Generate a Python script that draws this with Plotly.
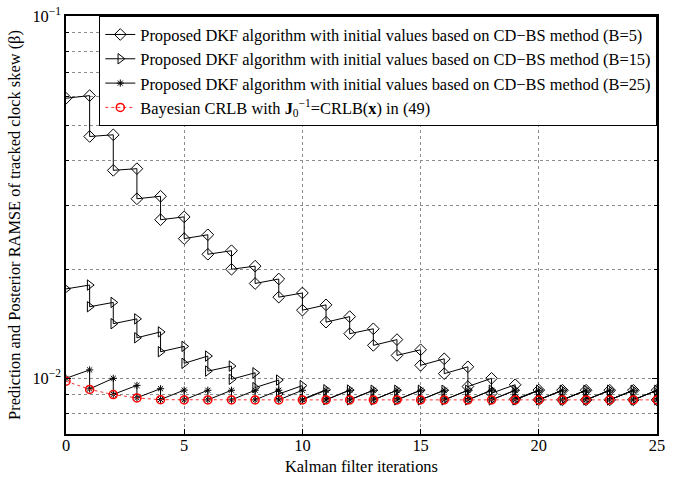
import numpy as np
import plotly.graph_objects as go

iters = list(range(0, 26))

# B=5: initial (k=0) and prediction/posterior for k=1..25
b5_init = 0.0593
b5_pred = [0.0603, 0.0470, 0.0379, 0.0318, 0.0279, 0.0249, 0.0225, 0.0204, 0.0188, 0.0172,
           0.01595, 0.0148, 0.0137, 0.01279, 0.01199, 0.01132, 0.01076, 0.0100, 0.00960, 0.00928,
           0.00927, 0.00927, 0.00927, 0.00927, 0.00927]
b5_post = [0.0465, 0.0375, 0.0313, 0.0274, 0.0243, 0.0220, 0.0200, 0.01827, 0.01675, 0.01542,
           0.01429, 0.01328, 0.01233, 0.01157, 0.01086, 0.01030, 0.00949, 0.0091, 0.00876, 0.00873,
           0.00872, 0.00872, 0.00872, 0.00872, 0.00872]

# B=15
b15_init = 0.01765
b15_pred = [0.01809, 0.01620, 0.01459, 0.01343, 0.01225, 0.01152, 0.01081, 0.01036, 0.00989, 0.00955,
            0.00930, 0.00928, 0.00927, 0.00927, 0.00927, 0.00927, 0.00927, 0.00927, 0.00927, 0.00927,
            0.00927, 0.00927, 0.00927, 0.00927, 0.00927]
b15_post = [0.01576, 0.01415, 0.01294, 0.01184, 0.01100, 0.01047, 0.00994, 0.00943, 0.00905, 0.00876,
            0.00873, 0.00872, 0.00872, 0.00872, 0.00872, 0.00872, 0.00872, 0.00872, 0.00872, 0.00872,
            0.00872, 0.00872, 0.00872, 0.00872, 0.00872]

# B=25
b25_init = 0.0100
b25_pred = [0.01055, 0.0100, 0.00956, 0.00936, 0.00928, 0.00927, 0.00927, 0.00927, 0.00927, 0.00927,
            0.00927, 0.00927, 0.00927, 0.00927, 0.00927, 0.00927, 0.00927, 0.00927, 0.00927, 0.00927,
            0.00927, 0.00927, 0.00927, 0.00927, 0.00927]
b25_post = [0.00935, 0.00903, 0.00884, 0.00874, 0.00872, 0.00872, 0.00872, 0.00872, 0.00872, 0.00872,
            0.00872, 0.00872, 0.00872, 0.00872, 0.00872, 0.00872, 0.00872, 0.00872, 0.00872, 0.00872,
            0.00872, 0.00872, 0.00872, 0.00872, 0.00872]

# Bayesian CRLB
crlb = [0.00982, 0.00932, 0.00902, 0.00883, 0.00873, 0.00872, 0.00872, 0.00872, 0.00872, 0.00872,
        0.00872, 0.00872, 0.00872, 0.00872, 0.00872, 0.00872, 0.00872, 0.00872, 0.00872, 0.00872,
        0.00872, 0.00872, 0.00872, 0.00872, 0.00872, 0.00872]

x_ticks = [0, 5, 10, 15, 20, 25]
y_ticks = [0.01, 0.1]
y_tick_text = ["10<sup>\u22122</sup>", "10<sup>\u22121</sup>"]
y_minor = [0.008, 0.009, 0.02, 0.03, 0.04, 0.05, 0.06, 0.07, 0.08, 0.09]

names = [
    "Proposed DKF algorithm with initial values based on CD\u2212BS method (B=5)",
    "Proposed DKF algorithm with initial values based on CD\u2212BS method (B=15)",
    "Proposed DKF algorithm with initial values based on CD\u2212BS method (B=25)",
    "Bayesian CRLB with <b>J</b><sub>0</sub><sup>\u22121</sup>=CRLB(<b>x</b>) in (49)",
]
x_title = "Kalman filter iterations"
y_title = "Prediction and Posterior RAMSE of tracked clock skew (\u03b2)"


def zigzag(init, pred, post):
    xs, ys = [iters[0]], [init]
    for k, (p, q) in enumerate(zip(pred, post), start=1):
        xs += [iters[k], iters[k]]
        ys += [p, q]
    return xs, ys


FONT = "Liberation Serif, Times New Roman, serif"
FS = 16.4
fig = go.Figure()
symbols = ["diamond-open", "triangle-right-open", "asterisk-open"]
sizes = [9, 9, 6]
for (init, pred, post), name, sym, sz in zip(
        [(b5_init, b5_pred, b5_post), (b15_init, b15_pred, b15_post), (b25_init, b25_pred, b25_post)],
        names[:3], symbols, sizes):
    xs, ys = zigzag(init, pred, post)
    fig.add_trace(go.Scatter(
        x=xs, y=ys, mode="lines+markers", name=name,
        line=dict(color="black", width=1),
        marker=dict(symbol=sym, size=sz, color="black", line=dict(color="black", width=1)),
    ))

fig.add_trace(go.Scatter(
    x=iters, y=crlb, mode="lines+markers", name=names[3],
    line=dict(color="#ff3030", width=1, dash="dot"),
    marker=dict(symbol="circle-open", size=8, color="red", line=dict(color="red", width=1.5)),
))

grid = dict(showgrid=True, gridcolor="#8c8c8c", griddash="dot", gridwidth=1)
fig.update_layout(
    width=683, height=477,
    margin=dict(l=66, r=26, t=16, b=43, autoexpand=False),
    paper_bgcolor="white", plot_bgcolor="white",
    font=dict(family=FONT, size=FS, color="black"),
    showlegend=True,
    legend=dict(
        x=1, y=1, xanchor="right", yanchor="top",
        bgcolor="white", bordercolor="black", borderwidth=1.3,
        font=dict(family=FONT, size=FS, color="black"),
        tracegroupgap=0, itemwidth=30,
    ),
    xaxis=dict(
        range=[0, 25], tickvals=x_ticks,
        ticks="inside", ticklen=5, tickcolor="black",
        showline=True, linecolor="black", linewidth=1.5, mirror="allticks",
        zeroline=False, automargin=False, ticklabelstandoff=-4,
        tickfont=dict(size=FS),
        **grid,
    ),
    yaxis=dict(
        type="log", range=[np.log10(0.00702), -1],
        tickvals=y_ticks, ticktext=y_tick_text,
        ticks="inside", ticklen=5, tickcolor="black",
        showline=True, linecolor="black", linewidth=1.5, mirror="allticks",
        zeroline=False, automargin=False,
        title=dict(text=y_title, font=dict(size=FS), standoff=8),
        tickfont=dict(size=FS),
        minor=dict(
            tickvals=y_minor,
            ticks="inside", ticklen=3, tickcolor="black",
            showgrid=True, gridcolor="#8c8c8c", griddash="dot", gridwidth=1,
        ),
        **grid,
    ),
    annotations=[dict(
        text=x_title, xref="paper", yref="paper", x=0.5, y=-0.0766,
        xanchor="center", yanchor="middle", showarrow=False, borderpad=0,
        font=dict(family=FONT, size=FS, color="black"),
    )],
)

# remove the browser's default 8px page margin so the figure fills the window
fig.write_html("out.html", config={"displayModeBar": False},
               post_script="document.body.style.margin='0px';")
